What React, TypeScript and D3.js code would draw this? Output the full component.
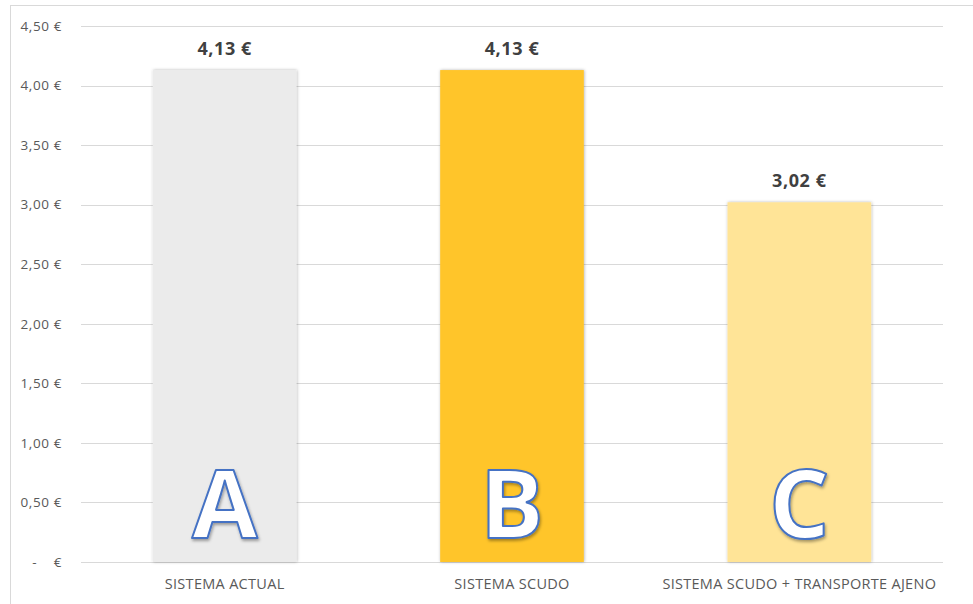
import React from "react";
import * as d3 from "d3";

const categories = ["SISTEMA ACTUAL", "SISTEMA SCUDO", "SISTEMA SCUDO + TRANSPORTE AJENO"];
const values = [4.13, 4.13, 3.02];
const valueLabels = ["4,13 €", "4,13 €", "3,02 €"];
const letters = ["A", "B", "C"];
const barColors = ["#ebebeb", "#ffc52a", "#ffe497"];
const tickValues = [0, 0.5, 1, 1.5, 2, 2.5, 3, 3.5, 4, 4.5];
const tickLabels = ["-    €", "0,50 €", "1,00 €", "1,50 €", "2,00 €", "2,50 €", "3,00 €", "3,50 €", "4,00 €", "4,50 €"];

const App = () => {
  const width = 973;
  const height = 604;
  const left = 81;
  const right = 943;
  const top = 26;
  const bottom = 562;

  const x = d3.scaleBand<string>().domain(categories).range([left, right]).paddingInner(0.5).paddingOuter(0.25);
  const y = d3.scaleLinear().domain([0, 4.5]).range([bottom, top]);

  const font = "Open Sans, Liberation Sans, sans-serif";

  return (
    <svg
      width={width}
      height={height}
      style={{ position: "absolute", left: 0, top: 0, background: "#fff" }}
    >
      <defs>
        <filter id="barShadow" x="-10%" y="-10%" width="120%" height="120%">
          <feDropShadow dx="0.5" dy="0" stdDeviation="1.5" floodColor="#000" floodOpacity="0.3" />
        </filter>
        <filter id="letterShadow" x="-20%" y="-20%" width="150%" height="150%">
          <feDropShadow dx="1" dy="2" stdDeviation="1.5" floodColor="#000" floodOpacity="0.35" />
        </filter>
      </defs>
      <rect x={10.5} y={5.5} width={1000} height={700} fill="#fff" stroke="#d9d9d9" />

      {/* grid + y ticks */}
      {tickValues.map((t, i) => (
        <g key={t}>
          <line x1={left} x2={right} y1={Math.round(y(t)) + 0.5} y2={Math.round(y(t)) + 0.5} stroke="#d9d9d9" strokeWidth={1} />
          <text
            x={62}
            y={y(t)}
            dy="0.35em"
            textAnchor="end"
            fontFamily={font}
            fontSize={13.5}
            letterSpacing={0.6}
            fill="#595959"
            style={{ whiteSpace: "pre" }}
          >
            {tickLabels[i]}
          </text>
        </g>
      ))}

      {/* bars */}
      {categories.map((c, i) => {
        const bx = x(c)!;
        const bw = x.bandwidth();
        const cx = bx + bw / 2;
        return (
          <g key={c}>
            <rect
              x={bx}
              y={y(values[i])}
              width={bw}
              height={bottom - y(values[i])}
              fill={barColors[i]}
              filter="url(#barShadow)"
            />
            <text
              x={cx}
              y={y(values[i]) - 15}
              textAnchor="middle"
              fontFamily={font}
              fontWeight={700}
              fontSize={18}
              letterSpacing={0.6}
              fill="#404040"
            >
              {valueLabels[i]}
            </text>
            <text
              x={cx}
              y={538}
              textAnchor="middle"
              fontFamily={font}
              fontWeight={700}
              fontSize={95}
              fill="#ffffff"
              stroke="#4472c4"
              strokeWidth={2}
              strokeLinejoin="round"
              filter="url(#letterShadow)"
            >
              {letters[i]}
            </text>
            <text
              x={cx}
              y={589}
              textAnchor="middle"
              fontFamily={font}
              fontSize={14.5}
              letterSpacing={0.3}
              fill="#595959"
            >
              {c}
            </text>
          </g>
        );
      })}
    </svg>
  );
};

export default App;
